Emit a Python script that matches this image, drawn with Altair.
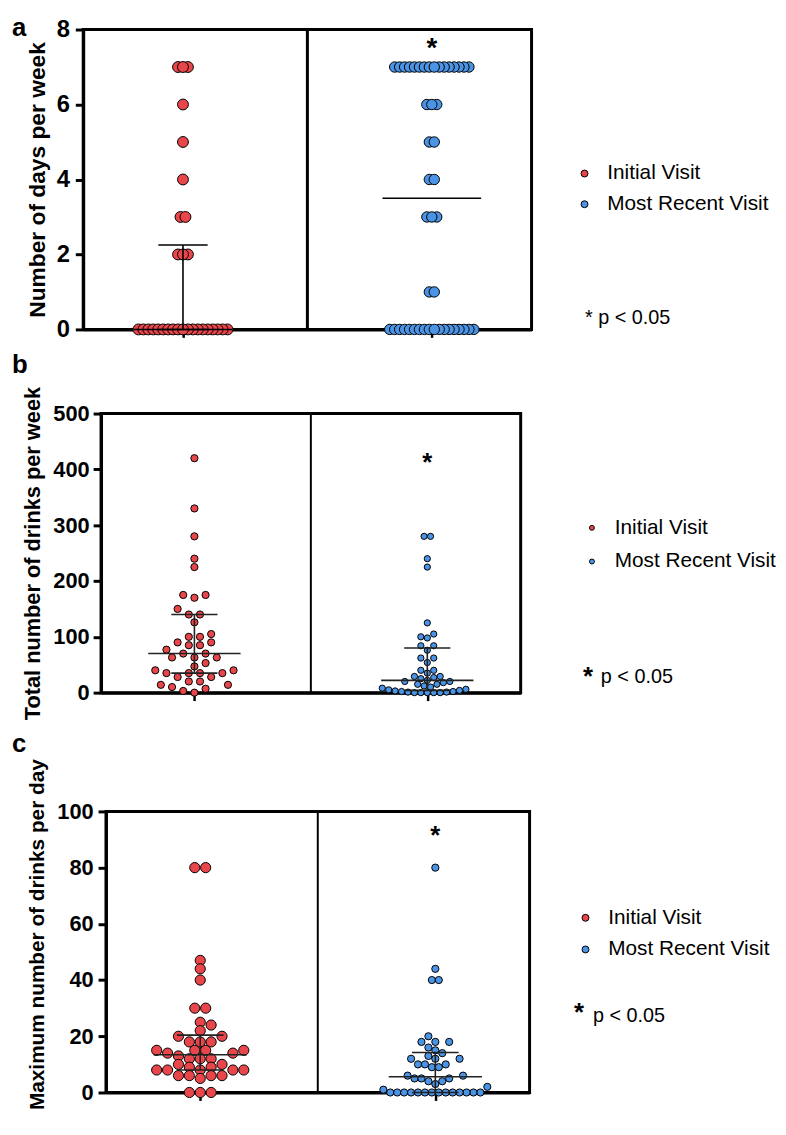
import altair as alt
import pandas as pd

GROUPS = ["Initial Visit", "Most Recent Visit"]
COLORS = ["#E9464B", "#4B94E5"]
CENTERS = [0.445, 1.555]
FONT = "Liberation Sans"

# ---------------- Panel a: Number of days per week ----------------
a_initial = [7, 7, 7, 6, 5, 4, 3, 3, 2, 2, 2,
             0, 0, 0, 0, 0, 0, 0, 0, 0, 0, 0, 0, 0, 0, 0, 0, 0, 0, 0]
a_recent = [7, 7, 7, 7, 7, 7, 7, 7, 7, 7, 7, 7, 7, 7, 7, 7,
            6, 6, 6, 5, 5, 4, 4, 3, 3, 3, 1, 1,
            0, 0, 0, 0, 0, 0, 0, 0, 0, 0, 0, 0, 0, 0, 0, 0, 0, 0]
a_median = [0, 3.5]
a_q1 = [0, None]
a_q3 = [2.25, None]
a_star = 7.69

# ---------------- Panel b: Total number of drinks per week ----------------
b_initial = [420, 330, 280, 240, 225, 175, 175, 170, 150, 140, 140,
             126, 105, 100, 100, 90, 90, 85, 85, 77, 70, 70,
             63, 63, 63, 53, 47, 40, 40, 35, 35, 35, 35,
             28, 28, 20, 20, 14, 14, 10, 7, 3, 0]
b_recent = [280, 280, 240, 225, 125, 105, 100, 98, 84, 84,
            76, 62, 62, 54, 40, 40, 35, 29, 29, 27, 25, 22,
            20, 20, 18, 15, 15, 12, 10, 8, 6, 5,
            4, 3, 2, 2, 1, 1, 0, 0, 0, 0, 0]
b_median = [70, 22]
b_q1 = [35, 4]
b_q3 = [140, 80]
b_star = 424

# ---------------- Panel c: Maximum number of drinks per day ----------------
c_initial = [80, 80, 47, 44, 40, 30, 30, 25, 24, 22, 20, 20, 18, 18, 18,
             15, 15, 15, 15, 14, 14, 13, 12, 12, 12, 10, 10, 9, 9,
             8, 8, 8, 8, 8, 6, 6, 6, 6, 5, 0, 0, 0]
c_recent = [80, 44, 40, 40, 20, 18, 18, 18, 16, 15, 14, 13, 12, 12, 12,
            10, 10, 10, 9, 9, 6, 6, 5, 5, 5, 4, 4, 3, 2, 1,
            0, 0, 0, 0, 0, 0, 0, 0, 0, 0, 0, 0, 0, 0]
c_median = [13.4, 5.6]
c_q1 = [8, 0]
c_q3 = [20.4, 14.2]
c_star = 93.6


def swarm(values, step, coll, pxy, alternate=True):
    """GraphPad-like symmetric swarm (bottom-up): x offsets in pixels."""
    n = len(values)
    order = sorted(range(n), key=lambda i: values[i])
    grps = []
    for i in order:
        if grps and values[grps[-1][0]] == values[i]:
            grps[-1].append(i)
        else:
            grps.append([i])
    placed = []
    offs = [0.0] * n
    cands = [j * step / 2.0 for j in range(1, 400)]
    toggle = -1

    def free(x, y, extra):
        for (px, py) in placed + extra:
            if (x - px) ** 2 + (y - py) ** 2 < coll ** 2 - 1e-6:
                return False
        return True

    for g in grps:
        k = len(g)
        y = values[g[0]] * pxy
        chosen = []
        if k % 2 == 1 and free(0.0, y, chosen):
            chosen.append((0.0, y))
        for c in cands:
            rem = k - len(chosen)
            if rem <= 0:
                break
            if rem >= 2:
                if free(c, y, chosen) and free(-c, y, chosen + [(c, y)]):
                    chosen.append((-c, y))
                    chosen.append((c, y))
            else:
                for cc in (toggle * c, -toggle * c):
                    if free(cc, y, chosen):
                        chosen.append((cc, y))
                        if alternate:
                            toggle = -toggle
                        break
        for idx, (x, _) in zip(g, chosen):
            offs[idx] = x
        placed.extend(chosen)
    return offs


def make_panel(p):
    width, height, ymax = p["width"], p["height"], p["ymax"]
    pxx = width / 2.0
    pxy = height / ymax
    rows = []
    for gi, vals in enumerate(p["values"]):
        offs = swarm(vals, p["step"][gi], p["coll"][gi], pxy, p["alternate"][gi])
        for v, o in zip(vals, offs):
            rows.append({"group": GROUPS[gi], "value": v,
                         "x": CENTERS[gi] + o / pxx,
                         "size": p["sizes"][gi], "ord": -abs(o)})
    pts = pd.DataFrame(rows).sort_values("ord", kind="stable")

    hl, rows_w = [], []
    for gi in range(2):
        c = CENTERS[gi]
        if p["median"][gi] is not None:
            hl.append({"x1": c - 0.22, "x2": c + 0.22, "y": p["median"][gi]})
        for q in (p["q1"][gi], p["q3"][gi]):
            if q is not None:
                hl.append({"x1": c - 0.11, "x2": c + 0.11, "y": q})
        if p["q1"][gi] is not None and p["q3"][gi] is not None:
            rows_w.append({"x": c, "y1": p["q1"][gi], "y2": p["q3"][gi]})
    hl = pd.DataFrame(hl)
    wk = pd.DataFrame(rows_w)

    xs = alt.Scale(domain=[0, 2], nice=False, zero=False)
    ys = alt.Scale(domain=[0, ymax], nice=False, zero=True)
    xaxis = alt.Axis(values=CENTERS, labels=False, title=None, ticks=True,
                     tickSize=8, tickWidth=2.5, tickColor="black",
                     domainColor="black", domainWidth=3, grid=False)
    yargs = dict(values=list(range(0, ymax + 1, p["ystep"])),
                 title=p["ytitle"], titleFont=FONT, titleFontSize=p["titleSize"],
                 titleFontWeight="bold", titleColor="black",
                 titlePadding=p["titlePadding"],
                 labelFont=FONT, labelFontSize=p["labelSize"],
                 labelFontWeight="bold", labelColor="black",
                 labelPadding=p["labelPadding"],
                 tickSize=8, tickWidth=3, tickColor="black",
                 domainColor="black", domainWidth=3, grid=False)
    if "titleY" in p:
        yargs["titleY"] = p["titleY"]
    yaxis = alt.Axis(**yargs)

    def X(f):
        return alt.X(f, scale=xs, axis=xaxis)

    def Y(f):
        return alt.Y(f, scale=ys, axis=yaxis)

    divider = alt.Chart(pd.DataFrame({"x": [1.0]})).mark_rule(
        color="black", strokeWidth=p["divider"]).encode(x=X("x:Q"))

    leg = p["legend"]
    points = alt.Chart(pts).mark_circle(
        stroke="black", strokeWidth=1, opacity=1).encode(
        x=X("x:Q"), y=Y("value:Q"),
        color=alt.Color("group:N", scale=alt.Scale(domain=GROUPS, range=COLORS),
                        legend=alt.Legend(orient="none", legendX=leg["x"], legendY=leg["y"],
                                          title=None, labelFont=FONT, labelFontSize=21,
                                          labelColor="black", labelLimit=400,
                                          symbolType="circle", symbolSize=leg["size"],
                                          symbolStrokeColor="black", symbolStrokeWidth=1,
                                          symbolOpacity=1, labelOffset=leg["offset"],
                                          rowPadding=leg["rowPadding"], padding=0)),
        size=alt.Size("size:Q", scale=None))

    hlines = alt.Chart(hl).mark_rule(color=p["lineColor"], strokeWidth=1.6).encode(
        x=X("x1:Q"), x2="x2:Q", y=Y("y:Q"))
    layers = [divider, points, hlines]
    if len(wk):
        whisk = alt.Chart(wk).mark_rule(color=p["lineColor"], strokeWidth=1.6).encode(
            x=X("x:Q"), y=Y("y1:Q"), y2="y2:Q")
        layers.append(whisk)

    star = alt.Chart(pd.DataFrame({"x": [CENTERS[1]], "y": [p["star"]]})).mark_text(
        text="*", font=FONT, fontSize=p["starSize"], fontWeight="bold",
        baseline="alphabetic", align="center", dy=0.57 * p["starSize"], color="black"
    ).encode(x=X("x:Q"), y=Y("y:Q"))
    layers.append(star)

    one = pd.DataFrame({"k": [0]})
    lab = alt.Chart(one).mark_text(
        text=p["label"], font=FONT, fontSize=26, fontWeight="bold",
        align="left", baseline="alphabetic", color="black"
    ).encode(x=alt.value(p["labelX"]), y=alt.value(p["labelY"]))
    layers.append(lab)

    for t in p["ptexts"]:
        layers.append(alt.Chart(one).mark_text(
            text=t["text"], font=FONT, fontSize=t["size"], fontWeight=t["weight"],
            align="left", baseline="alphabetic", color="black"
        ).encode(x=alt.value(t["x"]), y=alt.value(t["y"])))

    panel = alt.layer(*layers).properties(width=width, height=height)
    spacer = alt.Chart(one).mark_point(size=1, opacity=0).encode(
        x=alt.value(0), y=alt.value(0)
    ).properties(width=1, height=1,
                 view=alt.ViewBackground(stroke="transparent", strokeWidth=0))
    return alt.hconcat(spacer, panel, spacing=0).resolve_scale(color="independent")


panel_a = make_panel({
    "values": [a_initial, a_recent], "median": a_median, "q1": a_q1, "q3": a_q3,
    "ymax": 8, "ystep": 2, "ytitle": "Number of days per week",
    "width": 453, "height": 303, "star": a_star, "starSize": 28,
    "sizes": [121, 110], "step": [5, 5], "coll": [4.9, 4.9], "alternate": [True, True],
    "divider": 3, "lineColor": "black", "labelSize": 24, "labelPadding": 6,
    "titlePadding": 7, "titleSize": 23,
    "legend": {"x": 496, "y": 135, "size": 49, "offset": 12.5, "rowPadding": 9},
    "label": "a", "labelX": -72, "labelY": 6.5,
    "ptexts": [{"text": "* p < 0.05", "size": 20, "weight": "normal", "x": 507, "y": 298}],
})

panel_b = make_panel({
    "values": [b_initial, b_recent], "median": b_median, "q1": b_q1, "q3": b_q3,
    "ymax": 500, "ystep": 100, "ytitle": "Total number of drinks per week",
    "width": 424, "height": 282, "star": b_star, "starSize": 26,
    "sizes": [53, 40], "step": [11.3, 6.5], "coll": [8, 6.3], "alternate": [True, True],
    "divider": 2, "lineColor": "#222222", "labelSize": 22, "labelPadding": 4,
    "titlePadding": 8, "titleSize": 22,
    "legend": {"x": 485.5, "y": 105, "size": 25, "offset": 12.5, "rowPadding": 12},
    "label": "b", "labelX": -90, "labelY": -40.5,
    "ptexts": [{"text": "*", "size": 26, "weight": "bold", "x": 487, "y": 274},
               {"text": "p < 0.05", "size": 20, "weight": "normal", "x": 505, "y": 272}],
})

panel_c = make_panel({
    "values": [c_initial, c_recent], "median": c_median, "q1": c_q1, "q3": c_q3,
    "ymax": 100, "ystep": 20, "ytitle": "Maximum number of drinks per day",
    "width": 428, "height": 284, "star": c_star, "starSize": 26,
    "sizes": [106, 53], "step": [11, 7], "coll": [8.5, 6.9], "alternate": [True, False],
    "divider": 2, "lineColor": "#222222", "labelSize": 22, "labelPadding": 5,
    "titlePadding": 9, "titleSize": 21, "titleY": 124,
    "legend": {"x": 474, "y": 97, "size": 49, "offset": 12.5, "rowPadding": 10},
    "label": "c", "labelX": -95, "labelY": -60,
    "ptexts": [{"text": "*", "size": 26, "weight": "bold", "x": 473, "y": 212},
               {"text": "p < 0.05", "size": 20, "weight": "normal", "x": 492, "y": 213}],
})

chart = alt.vconcat(panel_a, panel_b, panel_c, spacing=8).resolve_scale(
    color="independent"
).configure_view(stroke="black", strokeWidth=3).properties(padding=0)

chart.save("out.html", embed_options={"renderer": "svg", "actions": False})
